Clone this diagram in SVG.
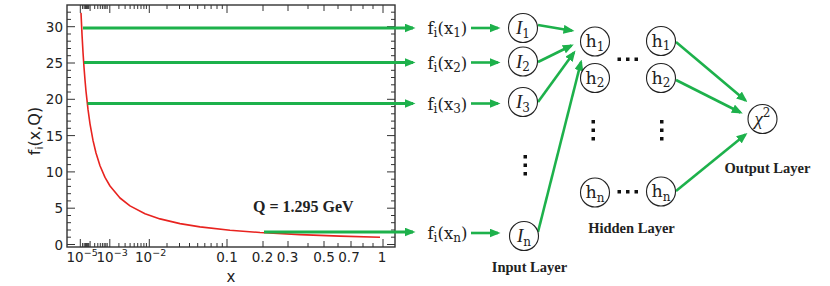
<svg xmlns="http://www.w3.org/2000/svg" width="830" height="286" viewBox="0 0 830 286">
<style>
.ax{fill:none;stroke:#333;stroke-width:1.4}
.tk{fill:none;stroke:#333;stroke-width:1}
.lab{font-family:"DejaVu Sans",sans-serif;font-size:13.5px;fill:#222}
.curve{fill:none;stroke:#e8231f;stroke-width:1.6;stroke-linejoin:round}
.con{fill:none;stroke:#1db14b;stroke-width:2.6;marker-end:url(#ah)}
.hl{fill:none;stroke:#1db14b;stroke-width:3}
.nd{fill:#fff;stroke:#222;stroke-width:1.1}
.nt{font-family:"DejaVu Serif",serif;font-size:17.5px;fill:#222}
.it{font-family:"Liberation Serif",serif;font-style:italic;font-size:19px}
.ft{font-family:"DejaVu Serif",serif;font-size:16.5px;fill:#222}
.ly{font-family:"Liberation Serif",serif;font-weight:bold;font-size:14.5px;fill:#222}
.dot{fill:#111}
</style>
<defs>
<marker id="ah" markerUnits="userSpaceOnUse" markerWidth="11" markerHeight="9" refX="8.5" refY="4.5" orient="auto">
<path d="M0,0 L11,4.5 L0,9 z" fill="#1db14b"/>
</marker>
</defs>

<g id="plot">
<rect class="ax" x="67" y="5" width="328" height="242"/>
<path class="tk" d="M67 244.5h8M67 208.2h8M67 171.9h8M67 135.6h8M67 99.3h8M67 63h8M67 26.7h8
M395 244.5h-8M395 208.2h-8M395 171.9h-8M395 135.6h-8M395 99.3h-8M395 63h-8M395 26.7h-8"/>
<path class="tk" d="M67 237.2h4M67 230h4M67 222.7h4M67 215.5h4M67 200.9h4M67 193.7h4M67 186.4h4M67 179.2h4M67 164.6h4M67 157.4h4M67 150.1h4M67 142.9h4M67 128.3h4M67 121.1h4M67 113.8h4M67 106.6h4M67 92h4M67 84.8h4M67 77.5h4M67 70.3h4M67 55.7h4M67 48.5h4M67 41.2h4M67 34h4M67 19.4h4M67 12.2h4
M395 237.2h-4M395 230h-4M395 222.7h-4M395 215.5h-4M395 200.9h-4M395 193.7h-4M395 186.4h-4M395 179.2h-4M395 164.6h-4M395 157.4h-4M395 150.1h-4M395 142.9h-4M395 128.3h-4M395 121.1h-4M395 113.8h-4M395 106.6h-4M395 92h-4M395 84.8h-4M395 77.5h-4M395 70.3h-4M395 55.7h-4M395 48.5h-4M395 41.2h-4M395 34h-4M395 19.4h-4M395 12.2h-4"/>
<path class="tk" d="M80.3 247v-8M90.1 247v-6M109.8 247v-8M149.3 247v-8M227 247v-8M263 247v-6M288 247v-6M324 247v-6M351 247v-6M383 247v-8
M80.3 5v8M90.1 5v6M109.8 5v8M149.3 5v8M227 5v8M263 5v6M288 5v6M324 5v6M351 5v6M383 5v8"/>
<path class="tk" d="M82.6 247v-4M84.2 247v-4M85.4 247v-4M86.4 247v-4M87.3 247v-4M88.1 247v-4M88.8 247v-4M94.7 247v-4M97.8 247v-4M100.3 247v-4M102.4 247v-4M104.2 247v-4M105.8 247v-4M107.2 247v-4M118.9 247v-4M125.1 247v-4M130.1 247v-4M134.2 247v-4M137.7 247v-4M141 247v-4M143.9 247v-4M146.4 247v-4M167 247v-4M179.5 247v-4M189.5 247v-4M197.7 247v-4M204.8 247v-4M211.1 247v-4M217 247v-4M222.3 247v-4M308 247v-4M338 247v-4M363 247v-4M373 247v-4
M82.6 5v4M84.2 5v4M85.4 5v4M86.4 5v4M87.3 5v4M88.1 5v4M88.8 5v4M94.7 5v4M97.8 5v4M100.3 5v4M102.4 5v4M104.2 5v4M105.8 5v4M107.2 5v4M118.9 5v4M125.1 5v4M130.1 5v4M134.2 5v4M137.7 5v4M141 5v4M143.9 5v4M146.4 5v4M167 5v4M179.5 5v4M189.5 5v4M197.7 5v4M204.8 5v4M211.1 5v4M217 5v4M222.3 5v4M308 5v4M338 5v4M363 5v4M373 5v4"/>
<g class="lab" text-anchor="end">
<text x="63" y="249.5">0</text>
<text x="63" y="213.2">5</text>
<text x="63" y="176.9">10</text>
<text x="63" y="140.6">15</text>
<text x="63" y="104.3">20</text>
<text x="63" y="68">25</text>
<text x="63" y="31.7">30</text>
</g>
<g class="lab">
<text x="66.5" y="262">10<tspan font-size="9.5px" dy="-6">−5</tspan></text>
<text x="96.5" y="262">10<tspan font-size="9.5px" dy="-6">−3</tspan></text>
<text x="135" y="262">10<tspan font-size="9.5px" dy="-6">−2</tspan></text>
</g>
<g class="lab" text-anchor="middle">
<text x="227" y="262">0.1</text>
<text x="262.5" y="262">0.2</text>
<text x="287.5" y="262">0.3</text>
<text x="324" y="262">0.5</text>
<text x="349" y="262">0.7</text>
<text x="382" y="262">1</text>
<text x="231" y="282" font-size="15px">x</text>
<text transform="translate(40,131) rotate(-90)" font-size="16px">f<tspan font-size="11px" dy="3">i</tspan><tspan dy="-3">(x,Q)</tspan></text>
</g>
<path class="curve" d="M81,12.9 L82,34.4 L83,52.2 L84,67.2 L85,80 L86,91.2 L88,109.4 L90,123.8 L93,140.4 L96,153 L100,165.7 L105,177.4 L110,186 L120,198 L130,205.9 L145,213.7 L160,218.9 L180,223.6 L200,226.9 L230,230.2 L260,232.5 L300,234.6 L340,236.1 L380,237.2"/>
<text x="253" y="212" font-family="Liberation Serif, serif" font-weight="bold" font-size="16px" fill="#222">Q = 1.295 GeV</text>
</g>

<g id="connectors">
<path class="hl" d="M83 28H413" marker-end="url(#ah)"/>
<path class="hl" d="M84 62.5H413" marker-end="url(#ah)"/>
<path class="hl" d="M87.5 103.5H413" marker-end="url(#ah)"/>
<path class="hl" d="M264 232H413" marker-end="url(#ah)"/>
<path class="con" d="M471 28H498"/>
<path class="con" d="M471 62.5H498"/>
<path class="con" d="M471 103.5H498"/>
<path class="con" d="M471 233H498"/>
<path class="con" d="M538 25L572 30.7"/>
<path class="con" d="M538 62L571.5 45.5"/>
<path class="con" d="M538 102L574 52.5"/>
<path class="con" d="M538 232L581 62"/>
<path class="con" d="M676 42L745.5 100.5"/>
<path class="con" d="M676 80L740.5 112.5"/>
<path class="con" d="M676 191L745.5 134.5"/>
</g>

<g id="f1"><text class="ft" x="427.5" y="34">f<tspan font-size="12px" dy="3">i</tspan><tspan dy="-3">(x</tspan><tspan font-size="12px" dy="3">1</tspan><tspan dy="-3">)</tspan></text></g>
<g id="f2"><text class="ft" x="427.5" y="68.5">f<tspan font-size="12px" dy="3">i</tspan><tspan dy="-3">(x</tspan><tspan font-size="12px" dy="3">2</tspan><tspan dy="-3">)</tspan></text></g>
<g id="f3"><text class="ft" x="427.5" y="109.5">f<tspan font-size="12px" dy="3">i</tspan><tspan dy="-3">(x</tspan><tspan font-size="12px" dy="3">3</tspan><tspan dy="-3">)</tspan></text></g>
<g id="fn"><text class="ft" x="427.5" y="239">f<tspan font-size="12px" dy="3">i</tspan><tspan dy="-3">(x</tspan><tspan font-size="12px" dy="3">n</tspan><tspan dy="-3">)</tspan></text></g>

<g id="I1"><circle class="nd" cx="523" cy="28" r="14.5"/><text class="nt" x="523" y="34" text-anchor="middle"><tspan class="it">I</tspan><tspan font-size="12px" dy="3.5">1</tspan></text></g>
<g id="I2"><circle class="nd" cx="523" cy="61.5" r="14.5"/><text class="nt" x="523" y="67.5" text-anchor="middle"><tspan class="it">I</tspan><tspan font-size="12px" dy="3.5">2</tspan></text></g>
<g id="I3"><circle class="nd" cx="523" cy="102" r="14.5"/><text class="nt" x="523" y="108" text-anchor="middle"><tspan class="it">I</tspan><tspan font-size="12px" dy="3.5">3</tspan></text></g>
<g id="In"><circle class="nd" cx="524" cy="236" r="14.5"/><text class="nt" x="524" y="242" text-anchor="middle"><tspan class="it">I</tspan><tspan font-size="12px" dy="3.5">n</tspan></text></g>
<g id="input-dots" class="dot"><rect x="523.5" y="155" width="3.5" height="3.5"/><rect x="523.5" y="163.5" width="3.5" height="3.5"/><rect x="523.5" y="172" width="3.5" height="3.5"/></g>

<g id="h1a"><circle class="nd" cx="595" cy="41.5" r="14.5"/><text class="nt" x="595" y="47" text-anchor="middle">h<tspan font-size="12px" dy="3.5">1</tspan></text></g>
<g id="h2a"><circle class="nd" cx="595" cy="78" r="14.5"/><text class="nt" x="595" y="83.5" text-anchor="middle">h<tspan font-size="12px" dy="3.5">2</tspan></text></g>
<g id="hna"><circle class="nd" cx="595" cy="192.5" r="14.5"/><text class="nt" x="595" y="198" text-anchor="middle">h<tspan font-size="12px" dy="3.5">n</tspan></text></g>
<g id="h1b"><circle class="nd" cx="661" cy="41" r="14.5"/><text class="nt" x="661" y="46.5" text-anchor="middle">h<tspan font-size="12px" dy="3.5">1</tspan></text></g>
<g id="h2b"><circle class="nd" cx="661" cy="78" r="14.5"/><text class="nt" x="661" y="83.5" text-anchor="middle">h<tspan font-size="12px" dy="3.5">2</tspan></text></g>
<g id="hnb"><circle class="nd" cx="661" cy="191.5" r="14.5"/><text class="nt" x="661" y="197" text-anchor="middle">h<tspan font-size="12px" dy="3.5">n</tspan></text></g>
<g id="hidden-dots" class="dot">
<rect x="617.5" y="57.5" width="3.5" height="3.5"/><rect x="626" y="57.5" width="3.5" height="3.5"/><rect x="634.5" y="57.5" width="3.5" height="3.5"/>
<rect x="617.5" y="190" width="3.5" height="3.5"/><rect x="626" y="190" width="3.5" height="3.5"/><rect x="634.5" y="190" width="3.5" height="3.5"/>
<rect x="591.5" y="120" width="3.5" height="3.5"/><rect x="591.5" y="128.5" width="3.5" height="3.5"/><rect x="591.5" y="137" width="3.5" height="3.5"/>
<rect x="660" y="120" width="3.5" height="3.5"/><rect x="660" y="128.5" width="3.5" height="3.5"/><rect x="660" y="137" width="3.5" height="3.5"/>
</g>

<g id="chi2"><circle class="nd" cx="762.5" cy="119" r="14.5"/><text class="nt" x="762.5" y="125" text-anchor="middle"><tspan class="it">χ</tspan><tspan font-size="12px" dy="-8">2</tspan></text></g>

<text class="ly" x="529.5" y="272" text-anchor="middle">Input Layer</text>
<text class="ly" x="631.5" y="233" text-anchor="middle">Hidden Layer</text>
<text class="ly" x="767.5" y="173" text-anchor="middle">Output Layer</text>
</svg>
